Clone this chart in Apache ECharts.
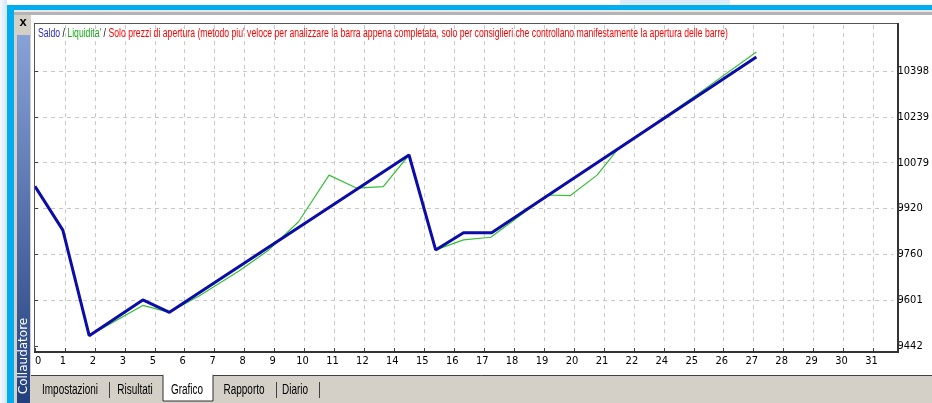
<!DOCTYPE html>
<html><head><meta charset="utf-8">
<script src="https://cdn.jsdelivr.net/npm/echarts@6/dist/echarts.min.js"></script>
<style>html,body{margin:0;padding:0;background:#fff;overflow:hidden}#c{width:932px;height:403px}</style>
</head><body><div id="c"></div>
<script>
// ---- data ----
const xTickLabels = ['0','1','2','3','5','6','7','8','9','10','11','12','14','15','16','17','18','19','20','21','22','24','25','26','27','28','29','30','31'];
const yTickLabels = ['9442','9601','9760','9920','10079','10239','10398'];
const saldoX = [0, 0.93, 1.81, 3.60, 4.49, 12.49, 13.38, 14.31, 15.25, 24.09];
const saldoY = [9997, 9845, 9478, 9602, 9559, 10106, 9776, 9836, 9836, 10447];
const liquiditaX = [0, 0.93, 1.81, 3.60, 4.49, 5.48, 6.81, 7.81, 8.80, 9.82, 10.73, 11.63, 12.49, 13.38, 14.31, 15.22, 16.00, 17.11, 17.88, 18.77, 19.44, 22.09, 24.09];
const liquiditaY = [9997, 9845, 9478, 9583, 9559, 9616, 9703, 9776, 9874, 10036, 9991, 9996, 10106, 9776, 9811, 9820, 9880, 9967, 9965, 10036, 10123, 10315, 10464];
const titleParts = ['Saldo', ' / ', "Liquidita'", ' / ', "Solo prezzi di apertura (metodo piu' veloce per analizzare la barra appena completata, solo per consiglieri che controllano manifestamente la apertura delle barre)"];
const tabNames = ['Impostazioni', 'Risultati', 'Grafico', 'Rapporto', 'Diario'];
const sideTitle = 'Collaudatore';

// ---- helpers ----
const zip = (xs, ys) => xs.map((x, i) => [x, ys[i]]);
const yMin = 9442, yStep = 956 / 6;
const narrow = '"Liberation Sans Narrow", "DejaVu Sans Condensed", "Liberation Sans", sans-serif';

const mctx = document.createElement('canvas').getContext('2d');
mctx.font = '12.5px "Liberation Sans"';
const titleScale = 690 / mctx.measureText(titleParts.join('')).width;
mctx.font = '14px "Liberation Sans"';
const tabScale = 56 / mctx.measureText('Impostazioni').width;

const chart = echarts.init(document.getElementById('c'), null, {renderer: 'canvas'});

const tabCenters = [70, 135, 187, 244, 295];

const graphics = [
  // background & window chrome
  {type:'rect', z:-10, shape:{x:0,y:0,width:7,height:403}, style:{fill:new echarts.graphic.LinearGradient(0,0,1,0,[{offset:0,color:'#f4f9fd'},{offset:1,color:'#cfe6f6'}])}},
  {type:'rect', z:-10, shape:{x:620,y:0,width:110,height:5}, style:{fill:'#dcecf8'}},
  {type:'rect', z:-9, shape:{x:7,y:5,width:925,height:5}, style:{fill:'#00aeef'}},
  {type:'rect', z:-9, shape:{x:7,y:5,width:7,height:398}, style:{fill:'#00aeef'}},
  {type:'rect', z:-9, shape:{x:14,y:10,width:918,height:2}, style:{fill:'#e8e8e8'}},
  {type:'rect', z:-9, shape:{x:14,y:12,width:918,height:3}, style:{fill:'#b4b4b4'}},
  {type:'rect', z:-9, shape:{x:14,y:15,width:17,height:388}, style:{fill:'#d4d0c8'}},
  {type:'rect', z:-8, shape:{x:17,y:35,width:13,height:368}, style:{fill:new echarts.graphic.LinearGradient(0,0,0,1,[{offset:0,color:'#86a2d6'},{offset:1,color:'#23407e'}])}},
  {type:'text', z:5, x:23, y:22, style:{text:'x', font:'bold 13px "Liberation Sans", sans-serif', fill:'#000', align:'center', verticalAlign:'middle'}},
  {type:'text', z:5, x:24, y:356, rotation:Math.PI/2, style:{text:sideTitle, font:'12px "DejaVu Sans", sans-serif', fill:'#ffffff', align:'center', verticalAlign:'middle'}},
  // plot frame
  {type:'line', z:4, shape:{x1:34.5,y1:23,x2:34.5,y2:352}, style:{stroke:'#555', lineWidth:1}},
  {type:'line', z:4, shape:{x1:34,y1:23.5,x2:898,y2:23.5}, style:{stroke:'#555', lineWidth:1}},
  {type:'line', z:4, shape:{x1:898,y1:23,x2:898,y2:353}, style:{stroke:'#333', lineWidth:2}},
  {type:'line', z:4, shape:{x1:34,y1:352,x2:899,y2:352}, style:{stroke:'#333', lineWidth:2}},
  // tab bar
  {type:'rect', z:-9, shape:{x:31,y:375,width:901,height:28}, style:{fill:'#d4d0c8'}},
  {type:'line', z:4, shape:{x1:31,y1:375.5,x2:932,y2:375.5}, style:{stroke:'#404040', lineWidth:1}},
  {type:'rect', z:5, shape:{x:163,y:375,width:50,height:26}, style:{fill:'#ffffff', stroke:'#303030', lineWidth:1}},
  {type:'rect', z:6, shape:{x:163.5,y:374,width:49,height:2}, style:{fill:'#ffffff'}}
];
tabNames.forEach((t, i) => {
  graphics.push({type:'text', z:7, x:tabCenters[i], y:390, scaleX:tabScale, style:{text:t, font:'14px "Liberation Sans", sans-serif', fill:'#000', align:'center', verticalAlign:'middle'}});
});
[109, 276, 319].forEach(x => graphics.push({type:'line', z:7, shape:{x1:x+0.5,y1:382,x2:x+0.5,y2:398}, style:{stroke:'#404040', lineWidth:1}}));
const titleColors = ['#2a2ac8', '#000000', '#1aa81a', '#000000', '#ff0000'];
graphics.push({type:'text', z:8, x:38, y:34, scaleX:titleScale, style:{
  text: titleParts.map((p, i) => '{p' + i + '|' + p + '}').join(''),
  rich: Object.fromEntries(titleParts.map((p, i) => ['p' + i, {fill:titleColors[i], fontSize:12.5, fontFamily:'"Liberation Sans"'}])),
  align:'left', verticalAlign:'middle'}});

const option = {
  animation: false,
  backgroundColor: '#ffffff',
  grid: {left:35, right:34, top:346 - 7 * 45.833, bottom:57},
  xAxis: {
    type:'value', min:0, max:28.67, interval:1, offset:6,
    axisLine:{show:false},
    axisTick:{show:true, inside:true, length:4, lineStyle:{color:'#404040'}},
    axisLabel:{showMaxLabel:false, alignMinLabel:'left', margin:4, padding:[0,4,0,0], color:'#000', fontSize:11, fontFamily:narrow,
      formatter:(v) => Number.isInteger(v) && xTickLabels[v] !== undefined ? xTickLabels[v] : ''},
    splitLine:{show:true, showMinLine:false, showMaxLine:false, lineStyle:{type:[4,4], color:'#c8c8c8', width:1}}
  },
  yAxis: {
    type:'value', position:'right', min:yMin, max:yMin + 7 * yStep, interval:yStep,
    axisLine:{show:false},
    axisTick:{show:true, length:3, lineStyle:{color:'#404040'}},
    axisLabel:{showMaxLabel:false, margin:4, color:'#000', fontSize:11, fontFamily:narrow,
      formatter:(v) => { const k = Math.round((v - yMin) / yStep); return Math.abs(v - yMin - k * yStep) < 1 && yTickLabels[k] ? yTickLabels[k] : ''; }},
    splitLine:{show:true, showMinLine:false, showMaxLine:false, lineStyle:{type:[4,4], color:'#c8c8c8', width:1}}
  },
  series: [
    {name:"Liquidita'", type:'line', data:zip(liquiditaX, liquiditaY), symbol:'none', lineStyle:{color:'#35c035', width:1.2}, z:2},
    {name:'Saldo', type:'line', data:zip(saldoX, saldoY), symbol:'none', lineStyle:{color:'#0c0ca6', width:3}, z:3}
  ],
  graphic: graphics
};
chart.setOption(option);
</script>
</body></html>
